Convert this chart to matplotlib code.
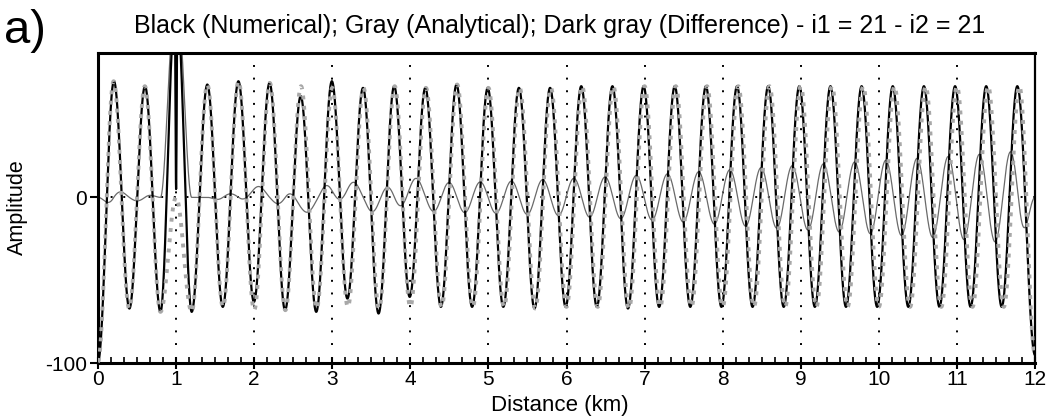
import numpy as np
import matplotlib.pyplot as plt
from matplotlib.ticker import MultipleLocator

plt.rcParams['font.family'] = ['Liberation Sans', 'DejaVu Sans']
plt.rcParams['axes.unicode_minus'] = False

# positions of the wave extremes (km)
peak_km = [0.2, 0.6, 1.0, 1.4, 1.8, 2.2, 2.6, 3.0, 3.4, 3.8, 4.2, 4.6, 5.0, 5.4, 5.8,
           6.2, 6.6, 7.0, 7.4, 7.8, 8.2, 8.6, 9.0, 9.4, 9.8, 10.2, 10.6, 11.0, 11.4, 11.8]
trough_km = [0.0, 0.4, 0.8, 1.2, 1.6, 2.0, 2.4, 2.8, 3.2, 3.6, 4.0, 4.4, 4.8, 5.2, 5.6, 6.0,
             6.4, 6.8, 7.2, 7.6, 8.0, 8.4, 8.8, 9.2, 9.6, 10.0, 10.4, 10.8, 11.2, 11.6, 12.0]

# analytical (gray) extremes
ana_peak = [70, 67, 0, 68, 70, 69, 67, 66, 66, 67, 66, 68, 66, 66, 66,
            67, 67, 67, 67, 67, 67, 67, 67, 67, 67, 67, 67, 67, 67, 67]
ana_trough = [-99, -67, -69, -69, -66, -68, -68, -67, -66, -67, -66, -66, -66, -66, -67, -66,
              -66, -67, -66, -66, -66, -66, -66, -66, -66, -66, -66, -66, -66, -66, -95]

# numerical (black) extremes
num_peak = [70, 67, 5, 68, 70, 69, 61, 70, 66, 67, 66, 68, 66, 66, 66,
            67, 67, 67, 67, 67, 67, 67, 67, 67, 67, 67, 67, 67, 67, 67]
num_trough = [-99, -67, -69, -69, -66, -63, -68, -69, -61, -70, -60, -66, -66, -66, -67, -66,
              -66, -67, -66, -66, -66, -66, -66, -66, -66, -66, -66, -66, -66, -66, -95]
# how far (km) the numerical wave runs ahead of the analytical one, per cycle
num_lead = [-0.004, -0.002, 0.0, 0.0, 0.002, 0.003, 0.004, 0.005, 0.006, 0.007,
            0.0078, 0.0085, 0.009, 0.0095, 0.0102, 0.011, 0.0118, 0.0126, 0.0136, 0.0148,
            0.016, 0.0172, 0.0183, 0.0194, 0.0205, 0.0215, 0.0226, 0.0237, 0.025, 0.0265]
# source spike of the numerical solution around 1 km
spike_km = [0.985, 1.015]
spike_amp = [110, 110]


def extremes(peaks, troughs, lead=None):
    xs, ys = [], []
    for k in range(len(peaks)):
        d = 0.0 if lead is None else lead[k]
        xs.append(trough_km[k] - d)
        ys.append(troughs[k])
        xs.append(peak_km[k] - d)
        ys.append(peaks[k])
    xs.append(trough_km[-1])
    ys.append(troughs[-1])
    xs[0] = trough_km[0]
    return xs, ys


def wave(ext_x, ext_y, grid):
    ext_x = np.asarray(ext_x, float)
    ext_y = np.asarray(ext_y, float)
    i = np.clip(np.searchsorted(ext_x, grid) - 1, 0, len(ext_x) - 2)
    t = (grid - ext_x[i]) / (ext_x[i + 1] - ext_x[i])
    return ext_y[i] + (ext_y[i + 1] - ext_y[i]) * (1 - np.cos(np.pi * t)) / 2


grid = np.linspace(0, 12, 24001)

ax_, ay_ = extremes(ana_peak, ana_trough)
analytical = wave(ax_, ay_, grid)

nx_, ny_ = extremes(num_peak, num_trough, num_lead)
j = nx_.index(peak_km[2] - num_lead[2])
nx_ = nx_[:j] + [spike_km[0], nx_[j], spike_km[1]] + nx_[j + 1:]
ny_ = ny_[:j] + [spike_amp[0], ny_[j], spike_amp[1]] + ny_[j + 1:]
numerical = wave(nx_, ny_, grid)

difference = numerical - analytical

fig = plt.figure(figsize=(10.46, 4.17), dpi=100)
ax = fig.add_axes([98 / 1046, 1 - 363.3 / 417, (1035 - 98) / 1046, (363.3 - 53) / 417])

dots = (0, (1, 5.5))
for xg in range(1, 12):
    ax.plot([xg, xg], [80, -93], color='black', lw=1.4, linestyle=dots, zorder=1)
ax.axhline(0, color='black', lw=1.4, linestyle=dots, zorder=1)

ax.plot(grid, difference, color='#6a6a6a', lw=0.9, zorder=2)
ax.plot(grid, numerical, color='black', lw=1.6, zorder=3)
ax.plot(grid, analytical, color='#a8a8a8', lw=2.8, linestyle=':', zorder=4)

ax.set_xlim(0, 12)
ax.set_ylim(-100, 87)
ax.set_xticks(range(13))
ax.xaxis.set_minor_locator(MultipleLocator(1 / 6))
ax.set_yticks([-100, 0])
ax.tick_params(axis='x', which='major', direction='inout', length=9, width=1.5, labelsize=15, pad=0)
ax.tick_params(axis='x', which='minor', direction='in', length=4, width=1.2)
ax.tick_params(axis='y', direction='out', length=6, width=1.5, labelsize=15, pad=2)
for s in ['left', 'bottom', 'top']:
    ax.spines[s].set_linewidth(2.2)
ax.spines['right'].set_linewidth(1.6)

fig.text(560 / 1046, 1 - 33 / 417, 'Black (Numerical); Gray (Analytical); Dark gray (Difference) - i1 = 21 - i2 = 21',
         ha='center', va='baseline', fontsize=18)
fig.text(4 / 1046, 1 - 43 / 417, 'a)', ha='left', va='baseline', fontsize=34)
fig.text(17 / 1046, 1 - 207 / 417, 'Amplitude', rotation=90, ha='center', va='center', fontsize=15.5)
fig.text(560 / 1046, 1 - 405 / 417, 'Distance (km)', ha='center', va='center', fontsize=16)

fig.savefig('out.png', dpi=100)
